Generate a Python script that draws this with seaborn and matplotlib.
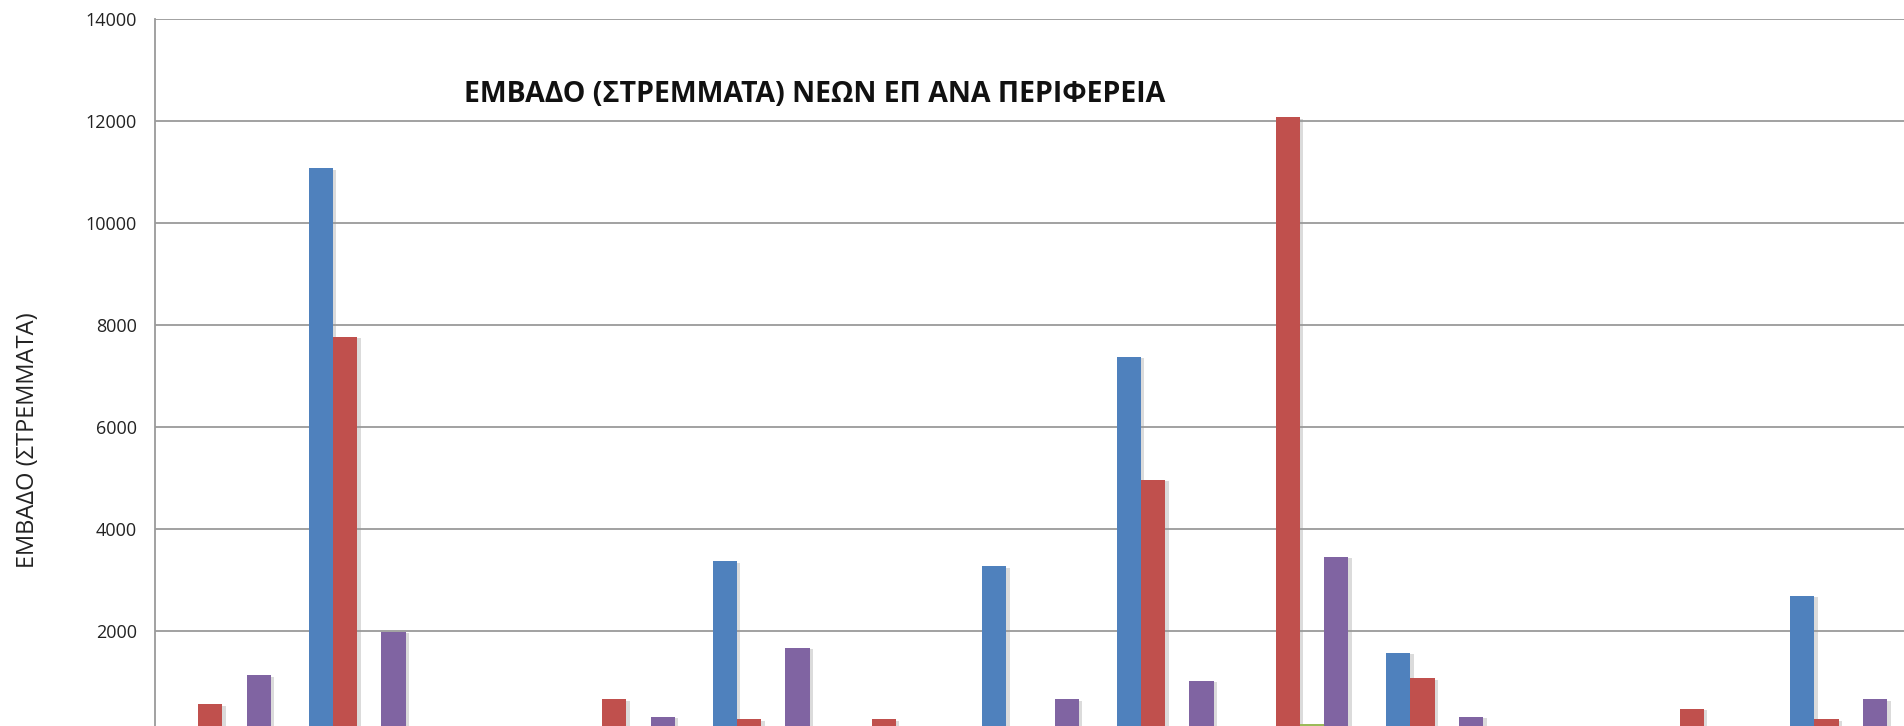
import pandas as pd
import numpy as np
import matplotlib
matplotlib.use("Agg")
import matplotlib.pyplot as plt
import matplotlib.patheffects as pe
import seaborn as sns

# regions (x categories) - their labels sit below the visible area, so they are not drawn
regions = ['Ανατολική Μακεδονία και Θράκη', 'Κεντρική Μακεδονία', 'Δυτική Μακεδονία',
           'Ήπειρος', 'Θεσσαλία', 'Ιόνια Νησιά', 'Δυτική Ελλάδα', 'Στερεά Ελλάδα',
           'Αττική', 'Πελοπόννησος', 'Βόρειο Αιγαίο', 'Νότιο Αιγαίο', 'Κρήτη']
series_names = ['Σειρά1', 'Σειρά2', 'Σειρά3', 'Σειρά4']
series_colors = ['#4F81BD', '#C0504D', '#9BBB59', '#8064A2']

s1 = [0, 11070, 0, 0, 3370, 0, 3270, 7380, 0, 1570, 0, 0, 2690]
s2 = [560, 7770, 0, 660, 265, 265, 0, 4970, 12070, 1070, 0, 470, 265]
s3 = [0, 0, 0, 0, 0, 0, 0, 0, 170, 0, 0, 0, 0]
s4 = [1130, 1990, 0, 320, 1670, 0, 660, 1020, 3460, 320, 0, 0, 660]

yticks = [2000, 4000, 6000, 8000, 10000, 12000, 14000]

df = pd.DataFrame({'region': regions * 4,
                   'series': np.repeat(series_names, len(regions)),
                   'value': s1 + s2 + s3 + s4})

sns.set_style('white')
plt.rcParams['font.family'] = ['Open Sans', 'DejaVu Sans']

fig = plt.figure(figsize=(19.04, 7.26), dpi=100)
ax = fig.add_axes([155 / 1904, -7 / 726, 1 - 153 / 1904, 714 / 726])

sns.barplot(data=df, x='region', y='value', hue='series', order=regions,
            hue_order=series_names, palette=series_colors, saturation=1,
            width=0.72, errorbar=None, legend=False, ax=ax, zorder=3)

# soft Excel-like shadow on the right of each bar
for bar in ax.patches:
    bar.set_linewidth(0)
    bar.set_path_effects([pe.SimplePatchShadow(offset=(2.5, -1), shadow_rgbFace='#999999', alpha=0.35),
                          pe.Normal()])

ax.set_ylim(0, 14000)
ax.set_xlim(-0.5, 12.5)
ax.set_yticks(yticks)
ax.yaxis.grid(True, color='#9a9a9a', linewidth=1.3, zorder=0)
ax.set_axisbelow(True)
ax.tick_params(axis='y', length=0, pad=13, labelsize=13, labelcolor='#222222')
ax.tick_params(axis='x', length=0, labelbottom=False)
for s in ['top', 'right', 'bottom']:
    ax.spines[s].set_visible(False)
ax.spines['left'].set_color('#9a9a9a')
ax.spines['left'].set_linewidth(1.3)
ax.set_xlabel('')
ax.set_ylabel('')

fig.text(28 / 1904, 1 - 440 / 726, 'ΕΜΒΑΔΟ (ΣΤΡΕΜΜΑΤΑ)', rotation=90,
         ha='center', va='center', fontsize=17, color='#222222')
fig.text(815 / 1904, 1 - 95 / 726, 'ΕΜΒΑΔΟ (ΣΤΡΕΜΜΑΤΑ) ΝΕΩΝ ΕΠ ΑΝΑ ΠΕΡΙΦΕΡΕΙΑ',
         ha='center', va='center', fontsize=20.5, fontweight='bold', color='#111111')

fig.savefig('out.png', dpi=100)
